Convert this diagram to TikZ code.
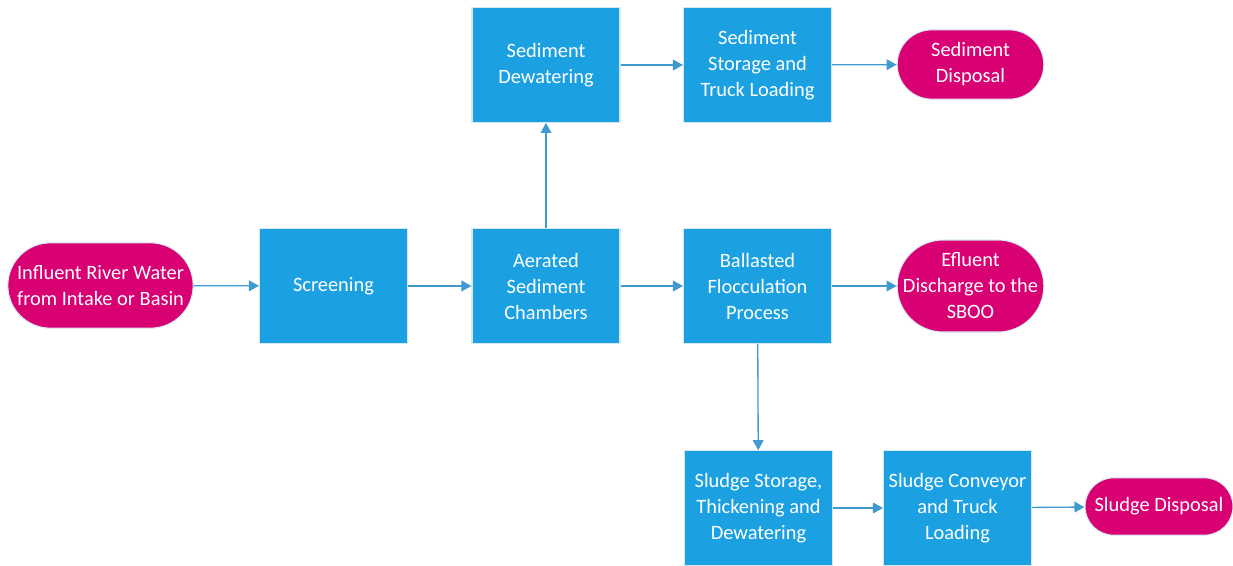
\documentclass[tikz,border=0pt]{standalone}
\usepackage{fontspec}
\setmainfont{Carlito}
\usetikzlibrary{arrows.meta}

\definecolor{procblue}{HTML}{1BA1E2}
\definecolor{termpink}{HTML}{D80073}
\definecolor{edgeline}{HTML}{D6E9F3}
\definecolor{flowline}{HTML}{3E9ACF}

\tikzset{
  procbox/.style={draw=edgeline, line width=0.8pt, fill=procblue, text=white,
    minimum width=111pt, minimum height=86pt, align=center, inner sep=2pt},
  termbox/.style={rectangle, rounded corners=#1, draw=edgeline, line width=0.8pt,
    fill=termpink, text=white, align=center, inner xsep=0pt, inner ysep=2pt},
  flow/.style={flowline, line width=1pt, -{Triangle[length=7.5pt,width=8pt]}}
}

\begin{document}
\begin{tikzpicture}[x=0.75pt, y=-0.75pt]
  \fontsize{15.3pt}{19.5pt}\selectfont
  \useasboundingbox (0,0) rectangle (1233,565);

  % main line
  \node[termbox=32pt, minimum width=139pt, minimum height=64pt] (intake) at (100.5,285.5)
    {Influent River Water\\from Intake or Basin};
  \node[procbox] (screen) at (333.5,286) {Screening};
  \node[procbox] (aerated) at (546,286) {Aerated\\Sediment\\Chambers};
  \node[procbox] (ballast) at (757.5,286) {Ballasted\\Flocculation\\Process};
  \node[termbox=34.5pt, minimum width=110pt, minimum height=69pt] (effluent) at (970.5,286)
    {Efluent\\Discharge to the\\SBOO};

  % sediment line
  \node[procbox] (sdewater) at (546,65) {Sediment\\Dewatering};
  \node[procbox] (sstore) at (757.5,65) {Sediment\\Storage and\\Truck Loading};
  \node[termbox=26pt, minimum width=110pt, minimum height=52pt] (sdispose) at (970.5,64.5)
    {Sediment\\Disposal};

  % sludge line
  \node[procbox] (ustore) at (758.5,508) {Sludge Storage,\\Thickening and\\Dewatering};
  \node[procbox] (uconvey) at (957.5,508) {Sludge Conveyor\\and Truck\\Loading};
  \node[termbox=21.5pt, minimum width=111pt, minimum height=43pt] (udispose) at (1159,506.5)
    {Sludge Disposal};

  % connectors
  \draw[flow] (intake) -- (screen);
  \draw[flow] (screen) -- (aerated);
  \draw[flow] (aerated) -- (ballast);
  \draw[flow] (ballast) -- (effluent);
  \draw[flow] (aerated) -- (sdewater);
  \draw[flow] (sdewater) -- (sstore);
  \draw[flow] (sstore) -- (sdispose);
  \draw[flow] (ballast) -- (ustore);
  \draw[flow] (ustore) -- (uconvey);
  \draw[flow] (uconvey) -- (udispose);
\end{tikzpicture}
\end{document}
